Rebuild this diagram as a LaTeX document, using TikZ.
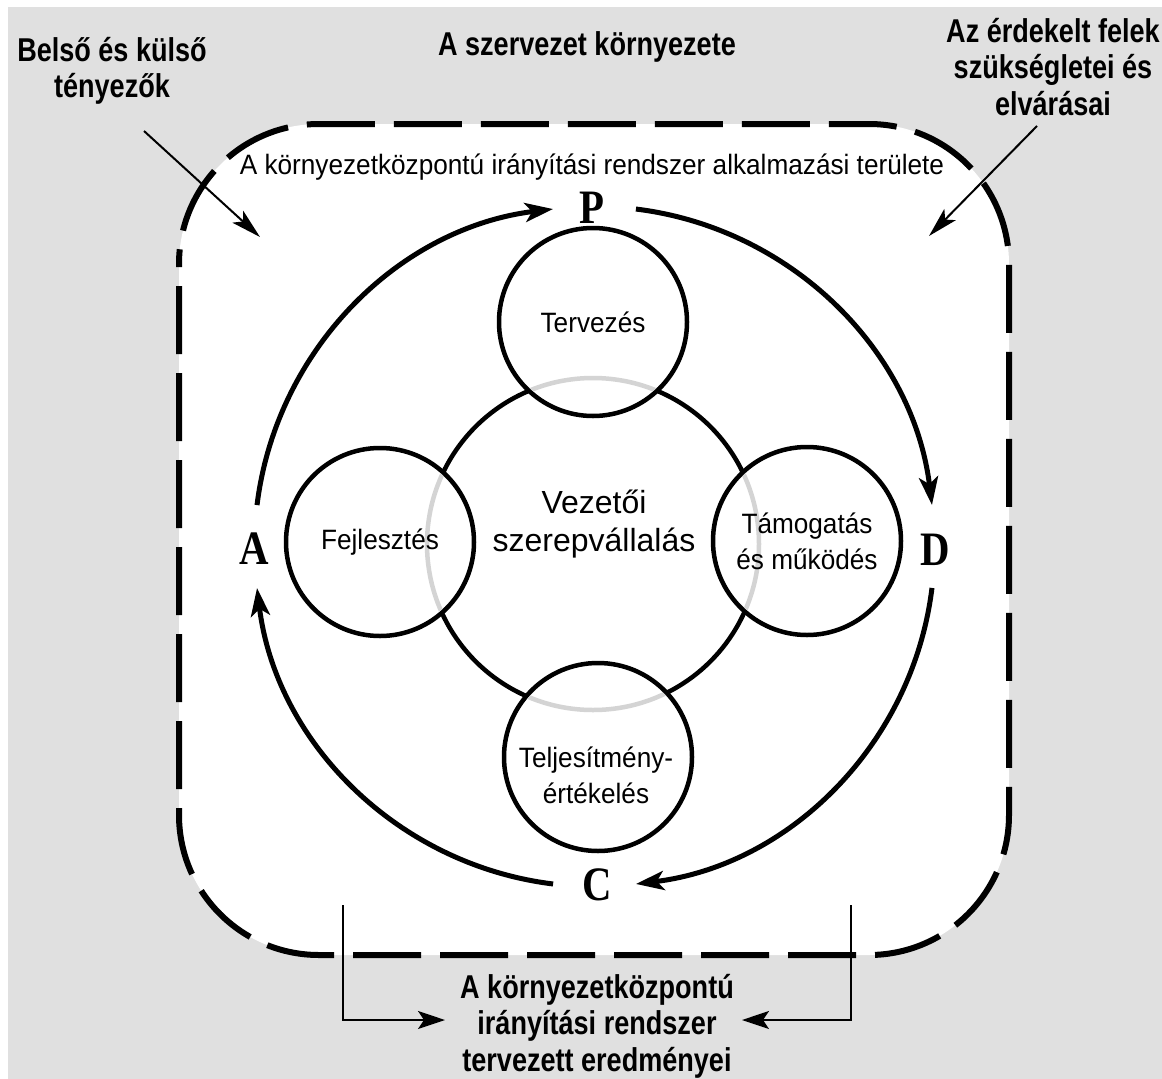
\documentclass[tikz,border=0pt]{standalone}
\usepackage{fontspec}
\setmainfont{Liberation Sans}
\newfontfamily\labfont{Liberation Sans}[FakeStretch=0.935]
\newfontfamily\boldlab{Liberation Sans}[FakeStretch=0.82]
\newfontfamily\pdcafont{Liberation Serif}[FakeStretch=0.85]
\usetikzlibrary{arrows.meta}
\definecolor{bggray}{RGB}{224,224,224}
\definecolor{ringgray}{RGB}{212,212,212}
\tikzset{
  boldtxt/.style={font=\boldlab\bfseries\fontsize{33}{36.5}\selectfont, align=center, inner sep=0pt},
  regtxt/.style={font=\labfont\fontsize{28}{36}\selectfont, align=center, inner sep=0pt},
  leadfont/.style={font=\fontsize{32}{38}\selectfont, align=center, inner sep=0pt},
  pdca/.style={font=\pdcafont\bfseries\fontsize{48}{48}\selectfont, inner sep=0pt},
  border/.style={line width=6pt, dash pattern=on 68pt off 19pt, dash phase=65pt, rounded corners=140pt},
  thinarrow/.style={line width=2pt, -{Stealth[length=30pt,width=16pt,inset=7pt]}},
  bracketarrow/.style={line width=2pt, -{Stealth[length=27pt,width=18pt,inset=6pt]}},
  bigarrow/.style={line width=5pt, -{Stealth[length=28pt,width=19pt,inset=7pt]}},
  smallc/.style={circle, draw, line width=4.5pt, fill=white, minimum size=188pt, inner sep=0pt},
  leadc/.style={circle, draw, line width=4.5pt, minimum size=332pt, inner sep=0pt},
  ring/.style={draw=ringgray, line width=4.5pt}
}
\begin{document}
\begin{tikzpicture}[x=1pt,y=-1pt]
\useasboundingbox (0,0) rectangle (1162,1079);
\fill[white] (0,0) rectangle (1162,1079);
\fill[bggray] (8,7) rectangle (1162,1079);
% scope area
\draw[border, fill=white] (179,124) rectangle (1009,955);
% outer labels
\node[boldtxt] (belso) at (112,71) {Belső és külső\\tényezők};
\node[boldtxt] (szerv) at (587,47) {A szervezet környezete};
\node[boldtxt] (erdek) at (1053,67) {Az érdekelt felek\\szükségletei és\\elvárásai};
\node[boldtxt] (eredm) at (597,1026) {A környezetközpontú\\irányítási rendszer\\tervezett eredményei};
\node[regtxt] (scope) at (592,167) {A környezetközpontú irányítási rendszer alkalmazási területe};
% outer arrows
\coordinate (a1s) at (144,131);
\coordinate (a1e) at (260,237);
\coordinate (a2s) at (1037,126);
\coordinate (a2e) at (929,236);
\draw[thinarrow] (a1s) -- (a1e);
\draw[thinarrow] (a2s) -- (a2e);
% bottom bracket
\coordinate (bl1) at (343,905);
\coordinate (bl2) at (445,1020);
\coordinate (br1) at (851,905);
\coordinate (br2) at (742,1020);
\draw[bracketarrow] (bl1) |- (bl2);
\draw[bracketarrow] (br1) |- (br2);
% PDCA cycle
\coordinate (O) at (594.5,546.5);
\draw[bigarrow] ([shift={(-173:340)}]O) arc[start angle=-173, end angle=-97, radius=340];
\draw[bigarrow] ([shift={(-83:340)}]O) arc[start angle=-83, end angle=-7, radius=340];
\draw[bigarrow] ([shift={(7:340)}]O) arc[start angle=7, end angle=83, radius=340];
\draw[bigarrow] ([shift={(97:340)}]O) arc[start angle=97, end angle=173, radius=340];
\node[pdca] (P) at (592,208) {P};
\node[pdca] (D) at (935,550) {D};
\node[pdca] (C) at (597,885) {C};
\node[pdca] (A) at (254,549) {A};
% circles
\node[leadc] (lead) at (593,544) {};
\node[smallc] (plan) at (593,322) {};
\node[smallc] (impr) at (380,542) {};
\node[smallc] (supp) at (807,541) {};
\node[smallc] (eval) at (598,757) {};
\foreach \c in {plan,impr,supp,eval}{
  \begin{scope}
    \clip (\c.center) circle[radius=91.5];
    \draw[ring] (lead.center) circle[radius=166];
  \end{scope}
}
\node[regtxt] (plantxt) at (plan.center) {Tervezés};
\node[regtxt] (imprtxt) at (impr.center) {Fejlesztés};
\node[regtxt] (supptxt) at (supp.center) {Támogatás\\és működés};
\node[regtxt] (evaltxt) at (596,775) {Teljesítmény-\\értékelés};
\node[leadfont] (leadtxt) at (594,524) {Vezetői\\szerepvállalás};
\end{tikzpicture}
\end{document}
